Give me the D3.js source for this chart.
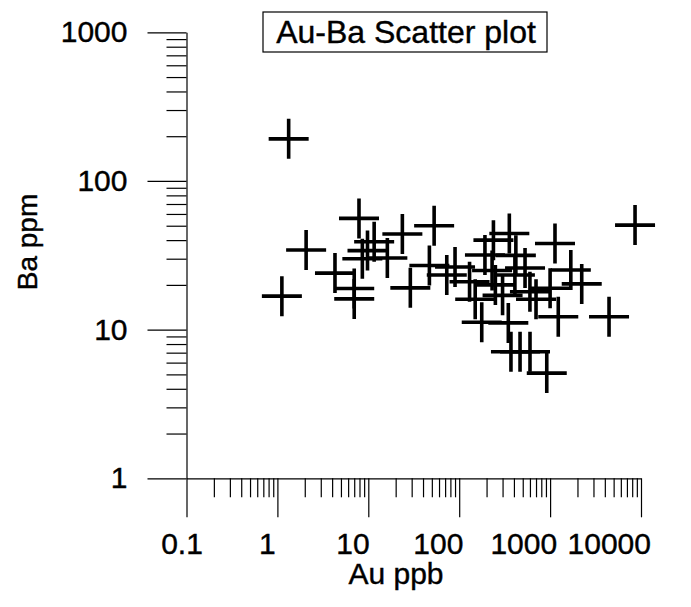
<!DOCTYPE html>
<html>
<head>
<meta charset="utf-8">
<script src="https://cdn.jsdelivr.net/npm/d3@7"></script>
<style>
  body { margin: 0; background: #fff; }
  text { font-family: "Liberation Sans", Arial, sans-serif; fill: #000; stroke: #000; stroke-width: 0.4px; }
</style>
</head>
<body>
<div id="chart-area"></div>
<script>
// Au (ppb) and Ba (ppm) pairs
var auPpb = [1.33, 1.12, 2.07, 4.3, 7.0, 7.0, 7.9, 11.6, 9.8, 8.6, 16.2, 23.7, 29, 53, 47, 73, 90,
  8600, 1132, 2228, 1230, 4450, 177, 347, 371, 467, 601, 919, 238, 356, 192, 1690,
  420, 410, 530, 150, 250, 300, 600, 700, 1000, 130, 230];
var baPpm = [192, 16.8, 34.3, 24, 16.1, 18.9, 56, 39, 34, 30, 30.3, 44, 19.1, 50, 27, 23.3, 26.4,
  50.5, 38, 20.3, 12.2, 12.2, 11.2, 11.1, 7.1, 7.1, 7.1, 5.1, 40, 44.3, 31.8, 25.2,
  31.6, 23.3, 26, 16, 20, 17, 18, 16, 19, 21, 25];

var xMajor = [0.1, 1, 10, 100, 1000, 10000];
var xLabels = ["0.1", "1", "10", "100", "1000", "10000"];
var yMajor = [1, 10, 100, 1000];
var yLabels = ["1", "10", "100", "1000"];

var title = "Au-Ba Scatter plot";
var xTitle = "Au ppb";
var yTitle = "Ba ppm";

function minorTicks(lo, hi) {
  var out = [];
  for (var p = lo; p < hi; p *= 10) {
    for (var k = 2; k <= 9; k++) out.push(p * k);
  }
  return out;
}

var width = 691, height = 607;

var svg = d3
  .select("#chart-area")
  .append("svg")
  .attr("xmlns", "http://www.w3.org/2000/svg")
  .attr("width", width)
  .attr("height", height);

var x = d3.scaleLog().domain([0.1, 10000]).range([186.5, 641]);
var y = d3.scaleLog().domain([1, 1000]).range([478.3, 32.3]);

// minor ticks first
svg
  .append("g")
  .attr("transform", "translate(0," + y(1) + ")")
  .call(d3.axisBottom(x).tickValues(minorTicks(0.1, 10000)).tickSize(19).tickSizeOuter(0).tickFormat(""))
  .call(function (g) { g.select(".domain").remove(); });

svg
  .append("g")
  .attr("transform", "translate(" + x(0.1) + ",0)")
  .call(d3.axisLeft(y).tickValues(minorTicks(1, 1000)).tickSize(20).tickSizeOuter(0).tickFormat(""))
  .call(function (g) { g.select(".domain").remove(); });

// major ticks + labels
var xAxis = svg
  .append("g")
  .attr("class", "x-axis")
  .attr("transform", "translate(0," + y(1) + ")")
  .call(
    d3.axisBottom(x)
      .tickValues(xMajor)
      .tickSize(39)
      .tickSizeOuter(0)
      .tickPadding(15)
      .tickFormat(function (d, i) { return xLabels[i]; })
  );
xAxis
  .selectAll("text")
  .attr("font-size", "30px")
  .attr("dx", function (d) { return -5 - 0.06 * (x(d) - x(0.1)); });

var yAxis = svg
  .append("g")
  .attr("class", "y-axis")
  .attr("transform", "translate(" + x(0.1) + ",0)")
  .call(
    d3.axisLeft(y)
      .tickValues(yMajor)
      .tickSize(39)
      .tickSizeOuter(0)
      .tickPadding(20)
      .tickFormat(function (d, i) { return yLabels[i]; })
  );
yAxis.selectAll("text").attr("font-size", "30px");

svg.selectAll(".domain, .tick line").attr("stroke", "#000").attr("stroke-width", 1.2);
svg.selectAll(".tick text").attr("font-family", "Liberation Sans, Arial, sans-serif").attr("fill", "#000");

// axis titles
svg
  .append("text")
  .attr("x", 396)
  .attr("y", 584)
  .attr("font-size", "30px")
  .attr("text-anchor", "middle")
  .text(xTitle);

svg
  .append("text")
  .attr("transform", "translate(37,242) rotate(-90)")
  .attr("font-size", "28px")
  .attr("text-anchor", "middle")
  .text(yTitle);

// title box
svg
  .append("rect")
  .attr("x", 263)
  .attr("y", 12)
  .attr("width", 284)
  .attr("height", 40)
  .attr("fill", "none")
  .attr("stroke", "#000")
  .attr("stroke-width", 1.2);

svg
  .append("text")
  .attr("x", 406)
  .attr("y", 43)
  .attr("font-size", "32px")
  .attr("text-anchor", "middle")
  .text(title);

// points as plus marks
var points = auPpb.map(function (a, i) { return { au: a, ba: baPpm[i] }; });

svg
  .append("g")
  .selectAll("path")
  .data(points)
  .enter()
  .append("path")
  .attr("transform", function (d) { return "translate(" + x(d.au) + "," + y(d.ba) + ")"; })
  .attr("d", "M-20,0H20M0,-20V20")
  .attr("stroke", "#000")
  .attr("stroke-width", 3.6)
  .attr("fill", "none");
</script>
</body>
</html>
